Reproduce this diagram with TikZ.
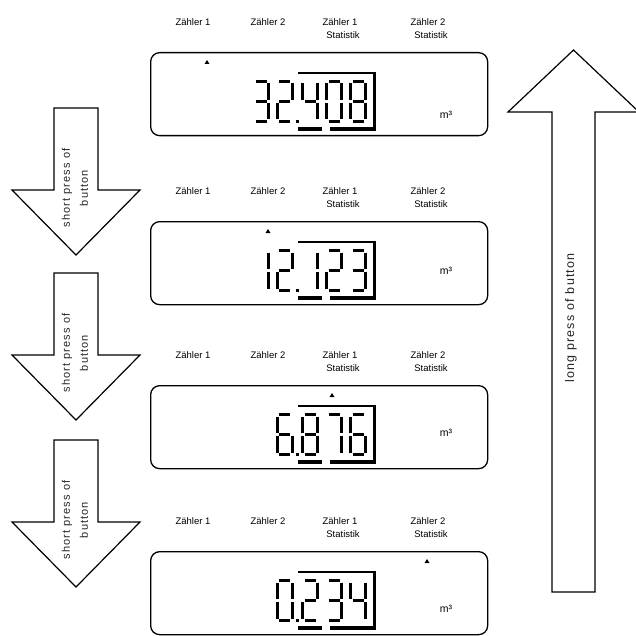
\documentclass[tikz,border=0pt]{standalone}
\usepackage{fontspec}
\setmainfont{Liberation Sans}
\newfontfamily\spacedfont[LetterSpace=10]{Liberation Sans}
\newcommand\lcddigit[3]{\begin{scope}[shift={(#1,#2)}]\lcddigitaux#3\end{scope}}
\def\lcddigitaux#1#2#3#4#5#6#7{%
  \ifnum#1=1 \draw[seg] (2,0) -- (13,0);\fi
  \ifnum#2=1 \draw[seg] (15,2) -- (15,18.8);\fi
  \ifnum#3=1 \draw[seg] (15,21.2) -- (15,38);\fi
  \ifnum#4=1 \draw[seg] (2,40) -- (13,40);\fi
  \ifnum#5=1 \draw[seg] (0,21.2) -- (0,38);\fi
  \ifnum#6=1 \draw[seg] (0,2) -- (0,18.8);\fi
  \ifnum#7=1 \draw[seg] (2,20) -- (13,20);\fi}
% slots: x of left centreline
\def\sA{253.5}\def\sB{277}\def\sC{302.5}\def\sD{326.5}\def\sE{350.5}
\newcommand\lcdpanel[5]{%
  \node[lcd, anchor=north west] (#2) at (150,#1) {};
  \node[lbl] (#2za) at (193,#1-34) {Zähler 1};
  \node[lbl] (#2zb) at (268,#1-34) {Zähler 2};
  \node[lbl] (#2zc) at (340,#1-34) {Zähler 1\\\hspace*{6pt}Statistik};
  \node[lbl] (#2zd) at (428,#1-34) {Zähler 2\\\hspace*{6pt}Statistik};
  \fill (#3-2.5,#1+12) -- (#3+2.5,#1+12) -- (#3,#1+8) -- cycle;
  \begin{scope}[shift={(0,#1+29.5)}]
    #4
    \fill (295.5,38.5) rectangle (298.5,41.5);
    \draw[line width=2pt] (298,-8.5) -- (375.5,-8.5);
    \draw[line width=3pt] (374.5,-9.5) -- (374.5,47.5);
    \draw[line width=3.5pt] (298,47.5) -- (322,47.5);
    \draw[line width=3.5pt] (330,47.5) -- (376,47.5);
  \end{scope}
  \node[unit] (#2m) at (446,#1+#5) {m³};
}
\begin{document}
\begin{tikzpicture}[x=1pt,y=-1pt,
  lbl/.style={font=\fontsize{9.5}{13}\selectfont, align=center, inner sep=0pt, anchor=north},
  unit/.style={font=\fontsize{10.5}{12}\selectfont, inner sep=0pt},
  lcd/.style={draw, line width=1.3pt, rounded corners=9pt, minimum width=337pt, minimum height=83pt, inner sep=0pt},
  seg/.style={line width=3pt},
  blockarrow/.style={draw, line width=1.2pt, fill=white, line join=miter},
  arrowtext/.style={font=\spacedfont\fontsize{11}{18}\selectfont, align=center, rotate=90, inner sep=0pt, text=black!85},
  longtext/.style={font=\spacedfont\fontsize{12.5}{16}\selectfont, rotate=90, inner sep=0pt, text=black!85}]
\useasboundingbox (0,0) rectangle (635,636);
% display 1: 32.408
\lcdpanel{52}{dA}{207}{%
  \lcddigit{\sA}{0}{1111001}\lcddigit{\sB}{0}{1101101}%
  \lcddigit{\sC}{0}{0110011}\lcddigit{\sD}{0}{1111110}\lcddigit{\sE}{0}{1111111}}{63}
% display 2: 12.123
\lcdpanel{221}{dB}{268}{%
  \lcddigit{\sA}{0}{0110000}\lcddigit{\sB}{0}{1101101}%
  \lcddigit{\sC}{0}{0110000}\lcddigit{\sD}{0}{1101101}\lcddigit{\sE}{0}{1111001}}{50}
% display 3: 6.876
\lcdpanel{385}{dC}{332}{%
  \lcddigit{\sB}{0}{1011111}%
  \lcddigit{\sC}{0}{1111111}\lcddigit{\sD}{0}{1110000}\lcddigit{\sE}{0}{1011111}}{48}
% display 4: 0.234
\lcdpanel{551}{dD}{427}{%
  \lcddigit{\sB}{0}{1111110}%
  \lcddigit{\sC}{0}{1101101}\lcddigit{\sD}{0}{1111001}\lcddigit{\sE}{0}{0110011}}{58}
% left block arrows
\foreach \t/\h/\p/\n in {108/190/255/a, 273/355/420/b, 440/522/587/c}{
  \draw[blockarrow] (54,\t) -- (98,\t) -- (98,\h) -- (140,\h) -- (76,\p) -- (12,\h) -- (54,\h) -- cycle;
  \node[arrowtext] (short\n) at (75,\h-2) {short press of\\button};
}
% right long arrow
\draw[blockarrow] (552,592) -- (552,112) -- (508,112) -- (573.5,50) -- (639,112) -- (595,112) -- (595,592) -- cycle;
\node[longtext] (long) at (571,318) {long press of button};
\end{tikzpicture}
\end{document}
